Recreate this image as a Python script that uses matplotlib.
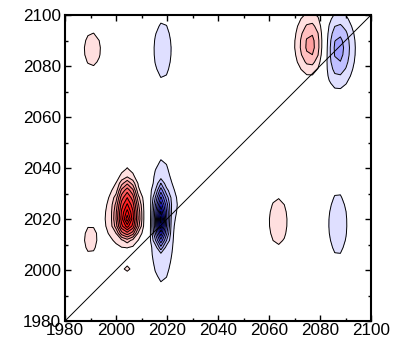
import numpy as np
import matplotlib
matplotlib.use("Agg")
import matplotlib.pyplot as plt
from matplotlib.ticker import MultipleLocator

plt.rcParams['font.family'] = ['Liberation Sans', 'DejaVu Sans']

# Sampling grid of the correlation map
grid_x = np.arange(1978.0, 2103.0, 2.2)
grid_y = np.arange(1978.0, 2104.0, 2.8)

# Cross peaks: centre, half-widths (x, y below, y above), signed intensity
# in contour-step units, and profile
# ('g' = gaussian, 's' = flat-topped gaussian, 'c' = cone)
peak_x     = [2004.4, 2004.0, 2004.5, 2017.6, 2018.0, 2021.8, 1990.7, 2018.3, 2063.6, 2087.0, 2076.7, 2087.0, 1990.0, 2004.4]
peak_y     = [2019.6, 2021.0, 2033.0, 2019.0, 2019.0, 2026.0, 2086.5, 2086.5, 2019.0, 2018.0, 2088.0, 2087.0, 2012.0, 2000.4]
peak_sx    = [5.8,    7.6,    2.4,    3.5,    4.0,    2.5,    3.9,    3.7,    4.3,    4.3,    4.1,    4.2,    2.7,    3.2]
peak_sy_lo = [9.0,    11.5,   5.0,    13.0,   20.5,   4.0,    7.9,    11.7,   11.0,   14.6,   7.5,    10.0,   5.8,    3.0]
peak_sy_hi = [17.5,   13.0,   9.0,    18.0,   21.0,   4.0,    7.9,    11.7,   11.0,   14.6,   8.5,    9.0,    5.8,    3.0]
peak_amp   = [9.0,    1.9,    1.1,    -9.0,   -1.95,  -0.6,   1.4,    -1.5,   1.4,    -1.4,   3.6,    -3.6,   1.5,    1.12]
peak_shape = ['c',    's',    'g',    'c',    'g',    'g',    'g',    'g',    'g',    'g',    'g',    'g',    'g',    'g']

contour_levels = [1, 2, 3, 4, 5, 6, 7, 8, 9, 10]

X, Y = np.meshgrid(grid_x, grid_y)
Z = np.zeros_like(X)
for cx, cy, sx, slo, shi, a, shape in zip(peak_x, peak_y, peak_sx, peak_sy_lo,
                                           peak_sy_hi, peak_amp, peak_shape):
    sy = np.where(Y < cy, slo, shi)
    r = np.hypot((X - cx) / sx, (Y - cy) / sy)
    if shape == 'c':
        Z += a * np.clip(1 - r, 0, None)
    elif shape == 's':
        Z += a * np.exp(-0.5 * r ** 4)
    else:
        Z += a * np.exp(-0.5 * r ** 2)

n = len(contour_levels)
frac = [min((k + 1) / 8.0, 0.95) for k in range(n)]
pos_colors = [(1.0, 1 - f, 1 - f) for f in frac]
neg_colors = [(1 - f, 1 - f, 1.0) for f in frac]

fig = plt.figure(figsize=(3.93, 3.44), dpi=100)
ax = fig.add_axes([65 / 393, 23 / 344, 306 / 393, 306 / 344])

pos = contour_levels + [1e3]
neg = [-1e3] + [-v for v in contour_levels[::-1]]
ax.contourf(X, Y, Z, levels=pos, colors=pos_colors)
ax.contourf(X, Y, Z, levels=neg, colors=neg_colors[::-1])
ax.contour(X, Y, Z, levels=neg[1:] + contour_levels, colors='black',
           linewidths=0.7, linestyles='solid')

ax.plot([1980, 2100], [1980, 2100], color='black', lw=0.7)

ax.set_xlim(1980, 2100)
ax.set_ylim(1980, 2100)
ax.xaxis.set_major_locator(MultipleLocator(20))
ax.yaxis.set_major_locator(MultipleLocator(20))
ax.xaxis.set_minor_locator(MultipleLocator(10))
ax.yaxis.set_minor_locator(MultipleLocator(10))
ax.tick_params(which='both', direction='in', top=True, right=True, labelsize=12.3)
ax.tick_params(which='major', length=4, width=1.0)
ax.tick_params(which='minor', length=2, width=1.0)
ax.tick_params(axis='x', pad=1.5)
ax.tick_params(axis='y', pad=3)
for s in ax.spines.values():
    s.set_linewidth(1.5)

fig.savefig('out.png', dpi=100)
